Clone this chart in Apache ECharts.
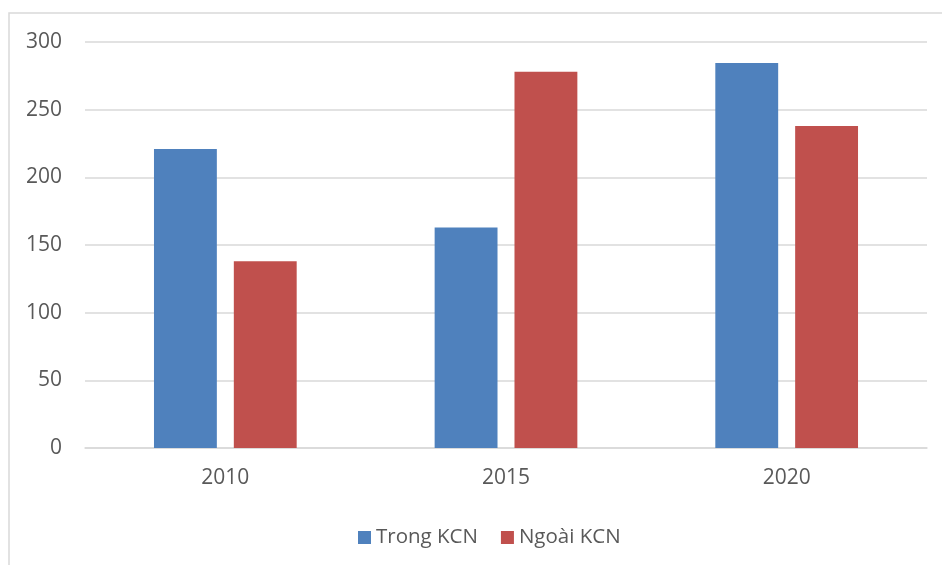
<!DOCTYPE html>
<html>
<head>
<meta charset="utf-8">
<script src="https://cdn.jsdelivr.net/npm/echarts@6/dist/echarts.min.js"></script>
<style>
  html, body { margin: 0; padding: 0; background: #fff; }
  #chart { width: 942px; height: 565px; }
</style>
</head>
<body>
<div id="chart"></div>
<script>
// Years on the category axis
const years = ['2010', '2015', '2020'];
// Values for each group
const trongKCN = [221, 163, 284.5];
const ngoaiKCN = [138, 278, 238];
// Value axis range
const yMin = 0;
const yMax = 300;
const yStep = 50;

const textColor = '#595959';
const fontFamily = '"Open Sans", "Liberation Sans", sans-serif';

const chart = echarts.init(document.getElementById('chart'), null, { renderer: 'canvas' });

chart.setOption({
  animation: false,
  backgroundColor: '#ffffff',
  textStyle: { fontFamily: fontFamily },
  graphic: [{
    type: 'rect',
    silent: true,
    shape: { x: 9, y: 13, width: 1000, height: 1000 },
    style: { fill: 'none', stroke: '#d9d9d9', lineWidth: 1.5 }
  }],
  grid: { left: 85, right: 15, top: 42, bottom: 117 },
  legend: {
    left: 353,
    top: 522,
    itemWidth: 13,
    itemHeight: 13,
    itemGap: 23,
    icon: 'rect',
    textStyle: { color: textColor, fontSize: 20.5, fontFamily: fontFamily },
    data: ['Trong KCN', 'Ngoài KCN']
  },
  xAxis: {
    type: 'category',
    data: years,
    axisLine: { show: true, lineStyle: { color: '#d9d9d9', width: 1.5 } },
    axisTick: { show: false },
    axisLabel: { color: textColor, fontSize: 21, margin: 20, fontFamily: fontFamily }
  },
  yAxis: {
    type: 'value',
    min: yMin,
    max: yMax,
    interval: yStep,
    axisLine: { show: false },
    axisTick: { show: false },
    axisLabel: { color: textColor, fontSize: 21, margin: 23, fontFamily: fontFamily },
    splitLine: { lineStyle: { color: '#d9d9d9', width: 1.5 } }
  },
  series: [
    {
      name: 'Trong KCN',
      type: 'bar',
      data: trongKCN,
      barWidth: '22.4%',
      barGap: '27%',
      itemStyle: { color: '#4f81bd' }
    },
    {
      name: 'Ngoài KCN',
      type: 'bar',
      data: ngoaiKCN,
      barWidth: '22.4%',
      barGap: '27%',
      itemStyle: { color: '#c0504d' }
    }
  ]
});
</script>
</body>
</html>
